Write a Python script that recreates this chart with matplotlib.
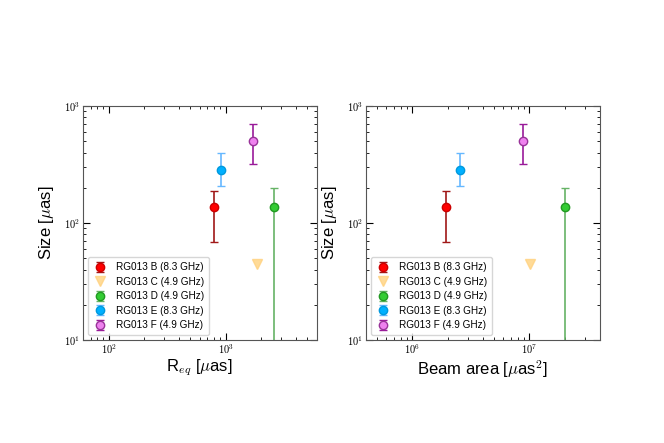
import numpy as np
import matplotlib
matplotlib.use('Agg')
import matplotlib.pyplot as plt
from matplotlib.ticker import FuncFormatter, LogLocator

plt.rcParams.update({'font.size': 9, 'mathtext.fontset': 'cm',
                     'font.family': ['Liberation Sans', 'DejaVu Sans']})

labels = ['RG013 B (8.3 GHz)', 'RG013 C (4.9 GHz)', 'RG013 D (4.9 GHz)',
          'RG013 E (8.3 GHz)', 'RG013 F (4.9 GHz)']
r_eq = [790, 1840, 2600, 920, 1700]
beam_area = [1.93e6, 1.02e7, 2.0e7, 2.54e6, 8.8e6]
size = [138, 45, 138, 287, 503]
err_lo = [69, 0, 137, 81, 185]
err_hi = [50, 0, 60, 108, 195]

face = ['red', '#ffd27f', '#33cc33', '#00b0ff', '#ee82ee']
edge = ['#cc0000', '#ffd27f', '#229922', '#0099dd', '#993399']
ecol = ['#a01818', '#ffd27f', '#66b366', '#66b8ff', '#9a1a9a']


def log_fmt(v, pos):
    return r'$10^{%d}$' % int(round(np.log10(v)))


def panel(ax, xvals, xlim, xlabel):
    handles = []
    for i in range(len(labels)):
        if i == 1:
            h, = ax.plot(xvals[i], size[i], 'v', color=face[i], alpha=0.8,
                         markersize=7, label=labels[i], linestyle='none')
        else:
            h = ax.errorbar(xvals[i], size[i], yerr=[[err_lo[i]], [err_hi[i]]],
                            fmt='o', color=face[i], mec=edge[i], ecolor=ecol[i],
                            markersize=6, capsize=3, elinewidth=1.2,
                            label=labels[i])
        handles.append(h)
    ax.set_xscale('log')
    ax.set_yscale('log')
    ax.set_xlim(xlim)
    ax.set_ylim(10, 1000)
    ax.xaxis.set_major_formatter(FuncFormatter(log_fmt))
    ax.yaxis.set_major_formatter(FuncFormatter(log_fmt))
    ax.xaxis.set_minor_locator(LogLocator(base=10, subs=np.arange(2, 10)))
    ax.yaxis.set_minor_locator(LogLocator(base=10, subs=np.arange(2, 10)))
    ax.tick_params(which='both', direction='in', top=True, right=True)
    ax.tick_params(which='major', length=5, labelsize=7.5, pad=2)
    ax.tick_params(which='minor', length=2.5)
    for s in ax.spines.values():
        s.set_color('#555555')
    ax.set_xlabel(xlabel, fontsize=12, labelpad=1)
    ax.set_ylabel(r'Size [$\mu$as]', fontsize=12, labelpad=5.5)
    ax.legend(handles, labels, loc='lower left', fontsize=7.2,
              handlelength=1.5, borderpad=0.5, labelspacing=0.45)


fig = plt.figure(figsize=(6.64, 4.43), dpi=100)
ax1 = fig.add_axes([0.1245, 0.2325, 0.3524, 0.528])
ax2 = fig.add_axes([0.551, 0.2325, 0.3524, 0.528])
panel(ax1, r_eq, (60, 6000), r'R$_{eq}$ [$\mu$as]')
panel(ax2, beam_area, (4e5, 4e7), r'Beam area [$\mu$as$^2$]')
fig.savefig('out.png', dpi=100)
